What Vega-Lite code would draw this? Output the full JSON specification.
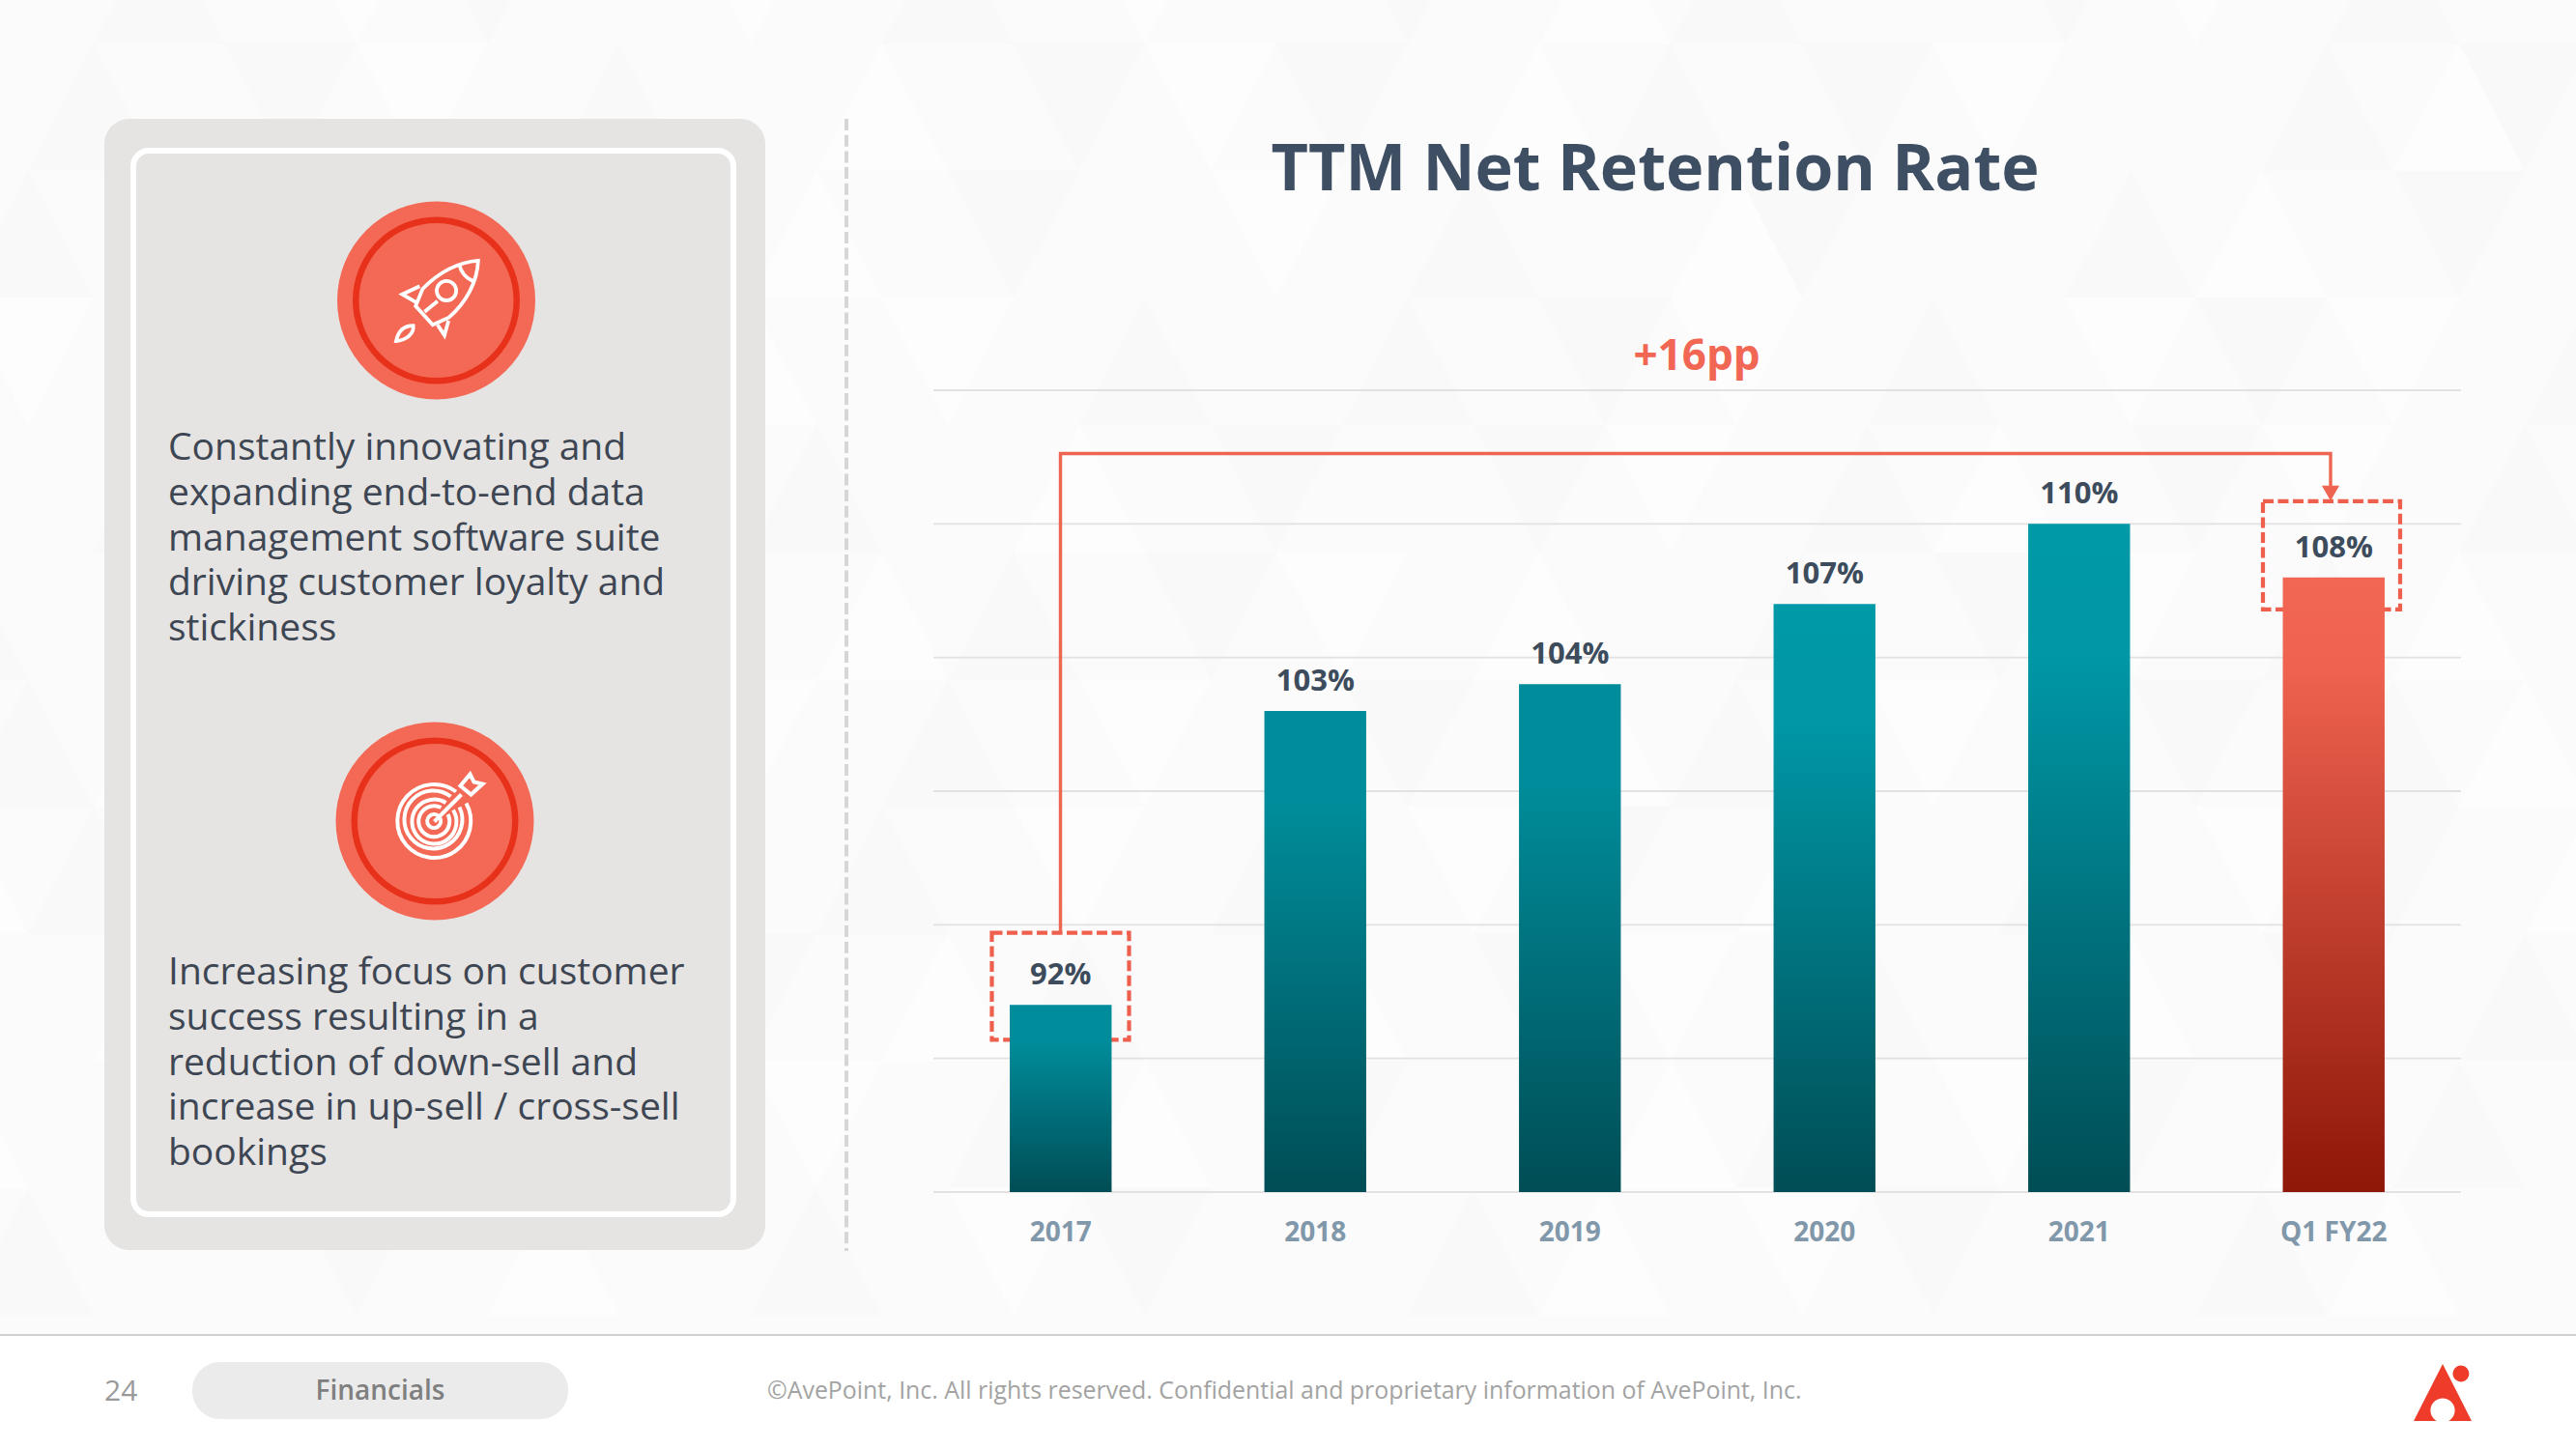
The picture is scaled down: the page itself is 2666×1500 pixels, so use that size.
{
"$schema":"https://vega.github.io/schema/vega-lite/v6.json",
"width":2666,"height":1500,"padding":0,"autosize":{"type":"none"},"background":"#ffffff",
"config":{"view":{"stroke":null},"font":"Open Sans"},
"resolve":{"scale":{"x":"independent","y":"independent","shape":"independent","color":"independent"},"axis":{"x":"independent","y":"independent"}},
"datasets":{
 "rates":[{"period":"2017","rate":92},{"period":"2018","rate":103},{"period":"2019","rate":104},{"period":"2020","rate":107},{"period":"2021","rate":110},{"period":"Q1 FY22","rate":108}],
 "ticks":[{"tick":85},{"tick":90},{"tick":95},{"tick":100},{"tick":105},{"tick":110},{"tick":115}],
 "highlights":[{"period":"2017","top":94.7,"bottom":90.7},{"period":"Q1 FY22","top":110.85,"bottom":106.8}],
 "bracket":[{"period":"2017","level":94.7,"step":0},{"period":"2017","level":112.63,"step":1},{"period":"Q1 FY22","level":112.63,"step":2},{"period":"Q1 FY22","level":111.4,"step":3}],
 "texture":[
{"c":"c3","r":"r0","d":"up","t":"shade"},{"c":"c8","r":"r0","d":"down","t":"shade"},{"c":"c15","r":"r0","d":"up","t":"shade"},{"c":"c22","r":"r0","d":"down","t":"shade"},{"c":"c27","r":"r0","d":"up","t":"shade"},{"c":"c32","r":"r0","d":"down","t":"shade"},{"c":"c37","r":"r0","d":"up","t":"shade"},
{"c":"c6","r":"r0","d":"down","t":"light"},{"c":"c12","r":"r0","d":"down","t":"light"},{"c":"c18","r":"r0","d":"down","t":"light"},{"c":"c25","r":"r0","d":"up","t":"light"},{"c":"c34","r":"r0","d":"down","t":"light"},
{"c":"c2","r":"r1","d":"up","t":"shade"},{"c":"c5","r":"r1","d":"down","t":"shade"},{"c":"c10","r":"r1","d":"up","t":"shade"},{"c":"c17","r":"r1","d":"down","t":"shade"},{"c":"c21","r":"r1","d":"down","t":"shade"},{"c":"c26","r":"r1","d":"up","t":"shade"},{"c":"c29","r":"r1","d":"down","t":"shade"},{"c":"c36","r":"r1","d":"up","t":"shade"},{"c":"c39","r":"r1","d":"down","t":"shade"},
{"c":"c7","r":"r1","d":"down","t":"light"},{"c":"c14","r":"r1","d":"up","t":"light"},{"c":"c19","r":"r1","d":"down","t":"light"},{"c":"c24","r":"r1","d":"up","t":"light"},{"c":"c31","r":"r1","d":"down","t":"light"},{"c":"c38","r":"r1","d":"up","t":"light"},
{"c":"c1","r":"r2","d":"up","t":"shade"},{"c":"c6","r":"r2","d":"down","t":"shade"},{"c":"c11","r":"r2","d":"up","t":"shade"},{"c":"c16","r":"r2","d":"down","t":"shade"},{"c":"c23","r":"r2","d":"up","t":"shade"},{"c":"c28","r":"r2","d":"down","t":"shade"},{"c":"c33","r":"r2","d":"up","t":"shade"},{"c":"c38","r":"r2","d":"down","t":"shade"},
{"c":"c4","r":"r2","d":"down","t":"light"},{"c":"c13","r":"r2","d":"up","t":"light"},{"c":"c20","r":"r2","d":"down","t":"light"},{"c":"c27","r":"r2","d":"up","t":"light"},{"c":"c35","r":"r2","d":"up","t":"light"},
{"c":"c4","r":"r3","d":"up","t":"shade"},{"c":"c9","r":"r3","d":"down","t":"shade"},{"c":"c18","r":"r3","d":"up","t":"shade"},{"c":"c22","r":"r3","d":"up","t":"shade"},{"c":"c25","r":"r3","d":"down","t":"shade"},{"c":"c30","r":"r3","d":"up","t":"shade"},{"c":"c35","r":"r3","d":"down","t":"shade"},{"c":"c40","r":"r3","d":"up","t":"shade"},
{"c":"c1","r":"r3","d":"down","t":"light"},{"c":"c12","r":"r3","d":"up","t":"light"},{"c":"c15","r":"r3","d":"down","t":"light"},{"c":"c27","r":"r3","d":"down","t":"light"},{"c":"c33","r":"r3","d":"down","t":"light"},{"c":"c37","r":"r3","d":"down","t":"light"},
{"c":"c3","r":"r4","d":"up","t":"shade"},{"c":"c8","r":"r4","d":"down","t":"shade"},{"c":"c13","r":"r4","d":"up","t":"shade"},{"c":"c20","r":"r4","d":"down","t":"shade"},{"c":"c24","r":"r4","d":"down","t":"shade"},{"c":"c29","r":"r4","d":"up","t":"shade"},{"c":"c34","r":"r4","d":"down","t":"shade"},{"c":"c39","r":"r4","d":"up","t":"shade"},
{"c":"c6","r":"r4","d":"down","t":"light"},{"c":"c17","r":"r4","d":"up","t":"light"},{"c":"c26","r":"r4","d":"down","t":"light"},{"c":"c31","r":"r4","d":"up","t":"light"},{"c":"c36","r":"r4","d":"down","t":"light"},
{"c":"c0","r":"r5","d":"up","t":"shade"},{"c":"c5","r":"r5","d":"down","t":"shade"},{"c":"c16","r":"r5","d":"up","t":"shade"},{"c":"c19","r":"r5","d":"down","t":"shade"},{"c":"c28","r":"r5","d":"up","t":"shade"},{"c":"c31","r":"r5","d":"down","t":"shade"},{"c":"c36","r":"r5","d":"up","t":"shade"},
{"c":"c14","r":"r5","d":"up","t":"light"},{"c":"c21","r":"r5","d":"down","t":"light"},{"c":"c24","r":"r5","d":"up","t":"light"},{"c":"c33","r":"r5","d":"down","t":"light"},{"c":"c38","r":"r5","d":"up","t":"light"},
{"c":"c1","r":"r6","d":"up","t":"shade"},{"c":"c10","r":"r6","d":"down","t":"shade"},{"c":"c15","r":"r6","d":"up","t":"shade"},{"c":"c22","r":"r6","d":"down","t":"shade"},{"c":"c27","r":"r6","d":"up","t":"shade"},{"c":"c34","r":"r6","d":"down","t":"shade"},{"c":"c37","r":"r6","d":"up","t":"shade"},
{"c":"c3","r":"r6","d":"up","t":"light"},{"c":"c12","r":"r6","d":"down","t":"light"},{"c":"c18","r":"r6","d":"down","t":"light"},{"c":"c25","r":"r6","d":"up","t":"light"},{"c":"c30","r":"r6","d":"down","t":"light"},{"c":"c39","r":"r6","d":"up","t":"light"},
{"c":"c2","r":"r7","d":"up","t":"shade"},{"c":"c7","r":"r7","d":"down","t":"shade"},{"c":"c14","r":"r7","d":"up","t":"shade"},{"c":"c20","r":"r7","d":"up","t":"shade"},{"c":"c25","r":"r7","d":"down","t":"shade"},{"c":"c32","r":"r7","d":"up","t":"shade"},{"c":"c37","r":"r7","d":"down","t":"shade"},
{"c":"c0","r":"r7","d":"up","t":"light"},{"c":"c9","r":"r7","d":"down","t":"light"},{"c":"c17","r":"r7","d":"down","t":"light"},{"c":"c23","r":"r7","d":"down","t":"light"},{"c":"c28","r":"r7","d":"up","t":"light"},{"c":"c35","r":"r7","d":"down","t":"light"},{"c":"c40","r":"r7","d":"up","t":"light"},
{"c":"c5","r":"r8","d":"up","t":"shade"},{"c":"c12","r":"r8","d":"down","t":"shade"},{"c":"c17","r":"r8","d":"up","t":"shade"},{"c":"c24","r":"r8","d":"down","t":"shade"},{"c":"c29","r":"r8","d":"up","t":"shade"},{"c":"c36","r":"r8","d":"down","t":"shade"},{"c":"c39","r":"r8","d":"up","t":"shade"},
{"c":"c3","r":"r8","d":"up","t":"light"},{"c":"c8","r":"r8","d":"down","t":"light"},{"c":"c15","r":"r8","d":"up","t":"light"},{"c":"c21","r":"r8","d":"up","t":"light"},{"c":"c26","r":"r8","d":"down","t":"light"},{"c":"c33","r":"r8","d":"up","t":"light"},
{"c":"c4","r":"r9","d":"up","t":"shade"},{"c":"c11","r":"r9","d":"down","t":"shade"},{"c":"c16","r":"r9","d":"up","t":"shade"},{"c":"c21","r":"r9","d":"down","t":"shade"},{"c":"c28","r":"r9","d":"up","t":"shade"},{"c":"c33","r":"r9","d":"down","t":"shade"},{"c":"c38","r":"r9","d":"up","t":"shade"},
{"c":"c0","r":"r9","d":"up","t":"light"},{"c":"c7","r":"r9","d":"down","t":"light"},{"c":"c13","r":"r9","d":"down","t":"light"},{"c":"c18","r":"r9","d":"up","t":"light"},{"c":"c26","r":"r9","d":"up","t":"light"},{"c":"c31","r":"r9","d":"down","t":"light"},{"c":"c36","r":"r9","d":"up","t":"light"},
{"c":"c1","r":"r10","d":"up","t":"shade"},{"c":"c6","r":"r10","d":"down","t":"shade"},{"c":"c13","r":"r10","d":"up","t":"shade"},{"c":"c18","r":"r10","d":"down","t":"shade"},{"c":"c23","r":"r10","d":"up","t":"shade"},{"c":"c30","r":"r10","d":"down","t":"shade"},{"c":"c35","r":"r10","d":"up","t":"shade"},
{"c":"c9","r":"r10","d":"up","t":"light"},{"c":"c16","r":"r10","d":"down","t":"light"},{"c":"c25","r":"r10","d":"up","t":"light"},{"c":"c28","r":"r10","d":"down","t":"light"},{"c":"c37","r":"r10","d":"up","t":"light"}
 ]
},
"layer":[
 {"data":{"values":[{"zone":"page"}]},"mark":{"type":"rect","color":"#fbfbfb"},
  "encoding":{"x":{"field":"zone","type":"nominal","axis":null,"scale":{"type":"band","paddingInner":0,"paddingOuter":0,"range":[0,2666]}},
              "y":{"field":"zone","type":"nominal","axis":null,"scale":{"type":"band","paddingInner":0,"paddingOuter":0,"range":[0,1381]}}}},
 {"data":{"name":"texture"},"mark":{"type":"point","filled":true,"opacity":1,"strokeWidth":0,"size":17424},
  "encoding":{"x":{"field":"c","type":"nominal","axis":null,"scale":{"type":"point","padding":0,"range":[-39,2749],"domain":["c0","c1","c2","c3","c4","c5","c6","c7","c8","c9","c10","c11","c12","c13","c14","c15","c16","c17","c18","c19","c20","c21","c22","c23","c24","c25","c26","c27","c28","c29","c30","c31","c32","c33","c34","c35","c36","c37","c38","c39","c40","c41"]}},
              "y":{"field":"r","type":"nominal","axis":null,"scale":{"type":"point","padding":0,"range":[-20.5,1295.5],"domain":["r0","r1","r2","r3","r4","r5","r6","r7","r8","r9","r10"]}},
              "shape":{"field":"d","type":"nominal","legend":null,"scale":{"domain":["up","down"],"range":["M0 -1 L1.03 1 L-1.03 1 Z","M0 1 L1.03 -1 L-1.03 -1 Z"]}},
              "color":{"field":"t","type":"nominal","legend":null,"scale":{"domain":["shade","light"],"range":["#f9f9f9","#fdfdfd"]}}}},
 {"data":{"values":[{"zone":"footer line"}]},"mark":{"type":"rect","color":"#d0d0d0"},
  "encoding":{"x":{"field":"zone","type":"nominal","axis":null,"scale":{"type":"band","paddingInner":0,"paddingOuter":0,"range":[0,2666]}},
              "y":{"field":"zone","type":"nominal","axis":null,"scale":{"type":"band","paddingInner":0,"paddingOuter":0,"range":[1381,1383]}}}},
 {"data":{"values":[{"zone":"divider"}]},"mark":{"type":"rule","color":"#d6d6d6","strokeWidth":4,"strokeDash":[12,4.7]},
  "encoding":{"x":{"field":"zone","type":"nominal","axis":null,"scale":{"type":"point","padding":0,"range":[876,876]}},
              "y":{"datum":0,"type":"quantitative","axis":null,"scale":{"domain":[0,1],"range":[123,1295]}},
              "y2":{"datum":1}}},
 {"data":{"values":[{"zone":"card"}]},"mark":{"type":"rect","color":"#e5e4e3","cornerRadius":26},
  "encoding":{"x":{"field":"zone","type":"nominal","axis":null,"scale":{"type":"band","paddingInner":0,"paddingOuter":0,"range":[108,792]}},
              "y":{"field":"zone","type":"nominal","axis":null,"scale":{"type":"band","paddingInner":0,"paddingOuter":0,"range":[123,1294]}}}},
 {"data":{"values":[{"zone":"card border"}]},"mark":{"type":"rect","fillOpacity":0,"stroke":"#ffffff","strokeWidth":6,"cornerRadius":16},
  "encoding":{"x":{"field":"zone","type":"nominal","axis":null,"scale":{"type":"band","paddingInner":0,"paddingOuter":0,"range":[138,759]}},
              "y":{"field":"zone","type":"nominal","axis":null,"scale":{"type":"band","paddingInner":0,"paddingOuter":0,"range":[156,1257]}}}},
 {"data":{"values":[{"icon":"rocket"},{"icon":"target"}]},"mark":{"type":"point","shape":"circle","filled":true,"fill":"#f36956","opacity":1,"strokeWidth":0,"size":42025},
  "encoding":{"x":{"field":"icon","type":"nominal","axis":null,"scale":{"type":"point","padding":0,"range":[451.5,450]}},
              "y":{"field":"icon","type":"nominal","axis":null,"scale":{"type":"point","padding":0,"range":[311,850]}}}},
 {"data":{"values":[{"icon":"rocket"},{"icon":"target"}]},"mark":{"type":"point","shape":"circle","filled":false,"fill":null,"stroke":"#e8311a","opacity":1,"strokeWidth":6.5,"size":27722},
  "encoding":{"x":{"field":"icon","type":"nominal","axis":null,"scale":{"type":"point","padding":0,"range":[451.5,450]}},
              "y":{"field":"icon","type":"nominal","axis":null,"scale":{"type":"point","padding":0,"range":[311,850]}}}},
 {"data":{"values":[{"icon":"rocket"}]},"mark":{"type":"point","filled":false,"stroke":"#ffffff","opacity":1,"strokeWidth":3.8,"size":7056,
   "shape":"M1.02 -0.98 C0.55 -0.95 0.05 -0.7 -0.35 -0.28 L-0.52 0.14 L-0.1 0.6 L0.3 0.42 C0.72 0.05 1.0 -0.45 1.02 -0.98 Z M0.55 -0.9 C0.6 -0.68 0.72 -0.55 0.88 -0.48 M0.48 -0.24 A0.24 0.24 0 1 1 0 -0.24 A0.24 0.24 0 1 1 0.48 -0.24 Z M-0.5 0.05 L-0.85 -0.15 L-0.42 -0.35 M0.02 0.6 L0.19 0.86 L0.29 0.5 M-1.0 1.0 C-0.95 0.75 -0.8 0.62 -0.58 0.62 C-0.55 0.82 -0.75 0.98 -1.0 1.0 Z M-0.3 0.28 L0.02 0.02"},
  "encoding":{"x":{"field":"icon","type":"nominal","axis":null,"scale":{"type":"point","padding":0,"range":[452,452]}},
              "y":{"field":"icon","type":"nominal","axis":null,"scale":{"type":"point","padding":0,"range":[311,311]}}}},
 {"data":{"values":[{"icon":"target"}]},"mark":{"type":"point","filled":false,"stroke":"#ffffff","opacity":1,"strokeWidth":4,"size":10000,
   "shape":"M0.45 -0.62 A0.76 0.76 0 1 0 0.66 -0.38 M0.34 -0.52 A0.6 0.6 0 1 0 0.52 -0.3 M0.24 -0.39 A0.46 0.46 0 1 0 0.39 -0.24 M0.14 -0.29 A0.32 0.32 0 1 0 0.28 -0.15 M0.08 -0.12 A0.14 0.14 0 1 0 0.12 -0.07 M0 0 L0.56 -0.56 M0.54 -0.74 L0.74 -0.98 L0.82 -0.82 L1 -0.78 L0.76 -0.56 Z"},
  "encoding":{"x":{"field":"icon","type":"nominal","axis":null,"scale":{"type":"point","padding":0,"range":[449.5,449.5]}},
              "y":{"field":"icon","type":"nominal","axis":null,"scale":{"type":"point","padding":0,"range":[850.5,850.5]}}}},
 {"data":{"values":[{"block":"innovation","line":"Constantly innovating and"},{"block":"innovation","line":"expanding end-to-end data"},{"block":"innovation","line":"management software suite"},{"block":"innovation","line":"driving customer loyalty and"},{"block":"innovation","line":"stickiness"}]},
  "mark":{"type":"text","align":"left","baseline":"middle","fontSize":39,"color":"#3d4652"},
  "encoding":{"text":{"field":"line"},
              "x":{"field":"block","type":"nominal","axis":null,"scale":{"type":"point","padding":0,"range":[174,174]}},
              "y":{"field":"line","type":"nominal","sort":null,"axis":null,"scale":{"type":"point","padding":0,"range":[464,651]}}}},
 {"data":{"values":[{"block":"success","line":"Increasing focus on customer"},{"block":"success","line":"success resulting in a"},{"block":"success","line":"reduction of down-sell and"},{"block":"success","line":"increase in up-sell / cross-sell"},{"block":"success","line":"bookings"}]},
  "mark":{"type":"text","align":"left","baseline":"middle","fontSize":39,"color":"#3d4652"},
  "encoding":{"text":{"field":"line"},
              "x":{"field":"block","type":"nominal","axis":null,"scale":{"type":"point","padding":0,"range":[174,174]}},
              "y":{"field":"line","type":"nominal","sort":null,"axis":null,"scale":{"type":"point","padding":0,"range":[1007,1194]}}}},
 {"data":{"name":"ticks"},"mark":{"type":"rule","color":"#e2e2e2","strokeWidth":1.8},
  "encoding":{"x":{"datum":0,"type":"quantitative","axis":null,"scale":{"domain":[0,1],"range":[966,2547]}},"x2":{"datum":1},
              "y":{"field":"tick","type":"quantitative","axis":null,"scale":{"domain":[85,115],"zero":false,"nice":false,"range":[1234,404]}}}},
 {"data":{"name":"highlights"},"mark":{"type":"rect","width":142,"fillOpacity":0,"stroke":"#ef5f4d","strokeWidth":4.2,"strokeDash":[11,4.5]},
  "encoding":{"x":{"field":"period","type":"nominal","axis":null,"scale":{"type":"point","padding":0,"domain":["2017","Q1 FY22"],"range":[1097.5,2413]}},
              "y":{"field":"top","type":"quantitative","axis":null,"scale":{"domain":[85,115],"zero":false,"nice":false,"range":[1234,404]}},"y2":{"field":"bottom"}}},
 {"data":{"name":"rates"},"transform":[{"filter":"datum.period == '2017' || datum.period == '2018' || datum.period == '2019'"}],
  "mark":{"type":"bar","color":{"gradient":"linear","x1":0,"y1":0,"x2":0,"y2":1,"stops":[{"offset":0,"color":"#008c9a"},{"offset":0.2,"color":"#008c9a"},{"offset":1,"color":"#004d55"}]}},
  "encoding":{"x":{"field":"period","type":"nominal","axis":null,"scale":{"type":"band","domain":["2017","2018","2019","2020","2021","Q1 FY22"],"paddingInner":0.6,"paddingOuter":0.3,"range":[966,2547]}},
              "y":{"field":"rate","type":"quantitative","axis":null,"scale":{"domain":[85,115],"zero":false,"nice":false,"range":[1234,404]}},"y2":{"datum":85}}},
 {"data":{"name":"rates"},"transform":[{"filter":"datum.period == '2020' || datum.period == '2021'"}],
  "mark":{"type":"bar","color":{"gradient":"linear","x1":0,"y1":0,"x2":0,"y2":1,"stops":[{"offset":0,"color":"#0099a8"},{"offset":0.2,"color":"#0097a6"},{"offset":1,"color":"#004d55"}]}},
  "encoding":{"x":{"field":"period","type":"nominal","axis":null,"scale":{"type":"band","domain":["2017","2018","2019","2020","2021","Q1 FY22"],"paddingInner":0.6,"paddingOuter":0.3,"range":[966,2547]}},
              "y":{"field":"rate","type":"quantitative","axis":null,"scale":{"domain":[85,115],"zero":false,"nice":false,"range":[1234,404]}},"y2":{"datum":85}}},
 {"data":{"name":"rates"},"transform":[{"filter":"datum.period == 'Q1 FY22'"}],
  "mark":{"type":"bar","color":{"gradient":"linear","x1":0,"y1":0,"x2":0,"y2":1,"stops":[{"offset":0,"color":"#f26654"},{"offset":0.15,"color":"#ee624f"},{"offset":1,"color":"#8e1708"}]}},
  "encoding":{"x":{"field":"period","type":"nominal","axis":null,"scale":{"type":"band","domain":["2017","2018","2019","2020","2021","Q1 FY22"],"paddingInner":0.6,"paddingOuter":0.3,"range":[966,2547]}},
              "y":{"field":"rate","type":"quantitative","axis":null,"scale":{"domain":[85,115],"zero":false,"nice":false,"range":[1234,404]}},"y2":{"datum":85}}},
 {"data":{"name":"bracket"},"mark":{"type":"line","color":"#ee6652","strokeWidth":3.4,"interpolate":"linear"},
  "encoding":{"x":{"field":"period","type":"nominal","axis":null,"scale":{"type":"point","padding":0,"domain":["2017","Q1 FY22"],"range":[1097.5,2412]}},
              "y":{"field":"level","type":"quantitative","axis":null,"scale":{"domain":[85,115],"zero":false,"nice":false,"range":[1234,404]}},
              "order":{"field":"step","type":"quantitative"}}},
 {"data":{"values":[{"period":"Q1 FY22","tip":111.15}]},"mark":{"type":"point","shape":"triangle-down","filled":true,"fill":"#ee6652","opacity":1,"strokeWidth":0,"size":330},
  "encoding":{"x":{"field":"period","type":"nominal","axis":null,"scale":{"type":"point","padding":0,"range":[2412,2412]}},
              "y":{"field":"tip","type":"quantitative","axis":null,"scale":{"domain":[85,115],"zero":false,"nice":false,"range":[1234,404]}}}},
 {"data":{"name":"rates"},"transform":[{"calculate":"datum.rate + '%'","as":"label"}],
  "mark":{"type":"text","baseline":"middle","dy":-30,"fontSize":31,"fontWeight":700,"color":"#3d4c5c"},
  "encoding":{"text":{"field":"label"},
              "x":{"field":"period","type":"nominal","scale":{"type":"band","domain":["2017","2018","2019","2020","2021","Q1 FY22"],"paddingInner":0.6,"paddingOuter":0.3,"range":[966,2547]},
                   "axis":{"orient":"bottom","offset":-266,"zindex":1,"title":null,"domain":false,"ticks":false,"grid":false,"labelAngle":0,"labelPadding":28,"labelFontSize":28,"labelFontWeight":700,"labelColor":"#8197aa","labelFont":"Open Sans"}},
              "y":{"field":"rate","type":"quantitative","axis":null,"scale":{"domain":[85,115],"zero":false,"nice":false,"range":[1234,404]}}}},
 {"data":{"values":[{"heading":"TTM Net Retention Rate"}]},"mark":{"type":"text","baseline":"middle","fontSize":66.5,"fontWeight":700,"color":"#3e4f63"},
  "encoding":{"text":{"field":"heading"},
              "x":{"field":"heading","type":"nominal","axis":null,"scale":{"type":"point","padding":0,"range":[1713,1713]}},
              "y":{"field":"heading","type":"nominal","axis":null,"scale":{"type":"point","padding":0,"range":[177,177]}}}},
 {"data":{"values":[{"change":"+16pp"}]},"mark":{"type":"text","baseline":"middle","fontSize":44,"fontWeight":700,"color":"#f26654"},
  "encoding":{"text":{"field":"change"},
              "x":{"field":"change","type":"nominal","axis":null,"scale":{"type":"point","padding":0,"range":[1756,1756]}},
              "y":{"field":"change","type":"nominal","axis":null,"scale":{"type":"point","padding":0,"range":[370,370]}}}},
 {"data":{"values":[{"page":"24"}]},"mark":{"type":"text","align":"left","baseline":"middle","fontSize":30,"color":"#9a9a9a"},
  "encoding":{"text":{"field":"page"},
              "x":{"field":"page","type":"nominal","axis":null,"scale":{"type":"point","padding":0,"range":[108,108]}},
              "y":{"field":"page","type":"nominal","axis":null,"scale":{"type":"point","padding":0,"range":[1441,1441]}}}},
 {"data":{"values":[{"section":"Financials"}]},"mark":{"type":"rect","color":"#ebebeb","cornerRadius":29},
  "encoding":{"x":{"field":"section","type":"nominal","axis":null,"scale":{"type":"band","paddingInner":0,"paddingOuter":0,"range":[199,588]}},
              "y":{"field":"section","type":"nominal","axis":null,"scale":{"type":"band","paddingInner":0,"paddingOuter":0,"range":[1410,1469]}}}},
 {"data":{"values":[{"section":"Financials"}]},"mark":{"type":"text","baseline":"middle","fontSize":28,"fontWeight":600,"color":"#7f7f7f"},
  "encoding":{"text":{"field":"section"},
              "x":{"field":"section","type":"nominal","axis":null,"scale":{"type":"point","padding":0,"range":[393.5,393.5]}},
              "y":{"field":"section","type":"nominal","axis":null,"scale":{"type":"point","padding":0,"range":[1441,1441]}}}},
 {"data":{"values":[{"notice":"©AvePoint, Inc. All rights reserved. Confidential and proprietary information of AvePoint, Inc."}]},"mark":{"type":"text","align":"left","baseline":"middle","fontSize":24.9,"color":"#a3a3a3"},
  "encoding":{"text":{"field":"notice"},
              "x":{"field":"notice","type":"nominal","axis":null,"scale":{"type":"point","padding":0,"range":[794,794]}},
              "y":{"field":"notice","type":"nominal","axis":null,"scale":{"type":"point","padding":0,"range":[1441,1441]}}}},
 {"data":{"values":[{"brand":"AvePoint"}]},"mark":{"type":"point","filled":true,"fill":"#ef3b2a","opacity":1,"strokeWidth":0,"size":3600,
   "shape":"M0 -0.98 L1 0.98 L0.21 0.98 A0.42 0.42 0 1 0 -0.21 0.98 L-1 0.98 Z M0.91 -0.65 A0.28 0.28 0 1 1 0.35 -0.65 A0.28 0.28 0 1 1 0.91 -0.65 Z"},
  "encoding":{"x":{"field":"brand","type":"nominal","axis":null,"scale":{"type":"point","padding":0,"range":[2528,2528]}},
              "y":{"field":"brand","type":"nominal","axis":null,"scale":{"type":"point","padding":0,"range":[1441.5,1441.5]}}}}
]
}
